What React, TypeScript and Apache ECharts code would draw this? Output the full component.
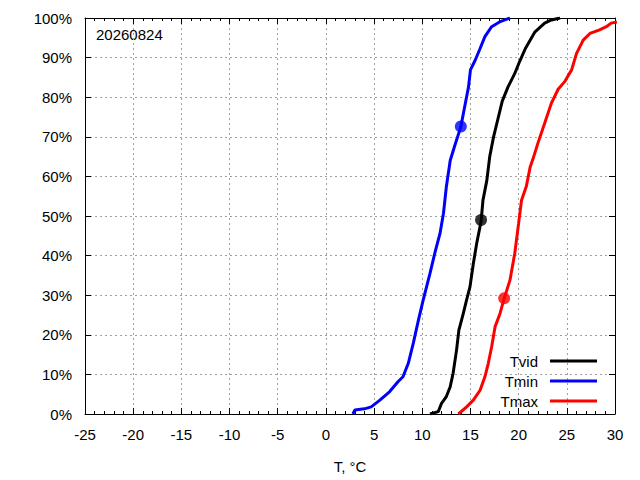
import React, { useEffect, useRef } from "react";
import * as echarts from "echarts";

const FONT = "'Liberation Sans', Arial, sans-serif";

const xTicks = [-25, -20, -15, -10, -5, 0, 5, 10, 15, 20, 25, 30];
const yTicks = [0, 10, 20, 30, 40, 50, 60, 70, 80, 90, 100];

const dateLabel = "20260824";
const seriesNames = ["Tvid", "Tmin", "Tmax"];
const seriesColors = ["#000000", "#0000ff", "#ff0000"];

const tvidX = [10.8, 11.66, 12.0, 12.5, 12.9, 13.2, 13.56, 13.8, 14.26, 14.6, 14.95, 15.3, 15.65, 16.1, 16.3, 16.7, 17.0, 17.4, 17.9, 18.3, 18.9, 19.6, 20.1, 20.7, 21.7, 22.7, 23.4, 24.3];
const tvidY = [0, 0.6, 2.7, 4.4, 6.9, 10.3, 16.2, 21.2, 25.4, 28.8, 32.1, 38, 43.1, 48.6, 54, 59, 65, 70, 75, 79, 82.6, 86, 89, 92.3, 96.5, 98.7, 99.5, 100];

const tminX = [2.8, 3.0, 4.0, 4.7, 5.6, 6.6, 7.5, 8.0, 8.55, 9.07, 9.6, 10.1, 10.8, 11.3, 11.84, 12.2, 12.5, 12.9, 13.4, 14.0, 14.4, 14.8, 15.0, 15.5, 16.0, 16.5, 17.2, 18.1, 19.1];
const tminY = [0, 1, 1.3, 1.8, 3.5, 5.6, 8.2, 9.4, 12.8, 17.9, 23.7, 28.8, 35.5, 40.6, 45.6, 50.7, 57.4, 64, 68, 72.5, 77.6, 82.6, 86.9, 89.4, 92.3, 95.3, 97.8, 99.1, 100];

const tmaxX = [13.75, 14.6, 15.3, 16.0, 16.5, 16.85, 17.2, 17.55, 18.07, 18.5, 19.1, 19.6, 20.0, 20.3, 20.8, 21.2, 21.5, 22.0, 22.7, 23.4, 24.1, 24.8, 25.5, 26.0, 26.7, 27.4, 28.4, 29.1, 29.6, 30.2];
const tmaxY = [0, 1.8, 3.5, 6, 9.4, 12.8, 17, 22, 25.4, 29.2, 33.8, 40.6, 48.2, 54, 57.5, 62.4, 64.5, 68.4, 73.4, 78.5, 82, 84, 86.9, 91, 94.4, 96.1, 97, 97.8, 98.7, 99];

// medians / markers [x, y%]
const markerTvid = [16.1, 49];
const markerTmin = [14.0, 72.6];
const markerTmax = [18.5, 29.2];

const zip = (xs: number[], ys: number[]) => xs.map((x, i) => [x, ys[i]]);

export default function App() {
  const ref = useRef<HTMLDivElement>(null);
  useEffect(() => {
    if (!ref.current) return;
    const chart = echarts.init(ref.current, null, { renderer: "svg" });
    const lines = [zip(tvidX, tvidY), zip(tminX, tminY), zip(tmaxX, tmaxY)];
    const markers = [markerTvid, markerTmin, markerTmax];
    const gridLine = { show: true, lineStyle: { color: "#a0a0a0", type: [2, 3] as any, width: 1 } };
    const xCommon = {
      type: "value" as const,
      min: xTicks[0],
      max: xTicks[xTicks.length - 1],
      interval: 5,
      axisLine: { show: true, onZero: false, lineStyle: { color: "#000", width: 1 } },
      axisTick: { show: true, inside: true, length: 6, lineStyle: { color: "#000" } },
      minorTick: { show: true, splitNumber: 5, length: 3, lineStyle: { color: "#000" } },
    };
    const yCommon = {
      type: "value" as const,
      min: yTicks[0],
      max: yTicks[yTicks.length - 1],
      interval: 10,
      axisLine: { show: true, onZero: false, lineStyle: { color: "#000", width: 1 } },
      axisTick: { show: true, inside: true, length: 6, lineStyle: { color: "#000" } },
    };
    chart.setOption({
      animation: false,
      backgroundColor: "#fff",
      textStyle: { fontFamily: FONT },
      grid: { left: 85, right: 25, top: 18, bottom: 66, containLabel: false },
      xAxis: [
        {
          ...xCommon,
          position: "bottom",
          splitLine: gridLine,
          axisLabel: { show: true, margin: 13, color: "#000", fontSize: 15, fontFamily: FONT },
          name: "T, °C",
          nameLocation: "middle",
          nameGap: 45,
          nameTextStyle: { color: "#000", fontSize: 15, fontFamily: FONT },
        },
        {
          ...xCommon,
          position: "top",
          splitLine: { show: false },
          axisLabel: { show: false },
        },
      ],
      yAxis: [
        {
          ...yCommon,
          position: "left",
          splitLine: gridLine,
          axisLabel: {
            show: true,
            margin: 13,
            color: "#000",
            fontSize: 15,
            fontFamily: FONT,
            formatter: (v: number) => `${v}%`,
          },
        },
        {
          ...yCommon,
          position: "right",
          splitLine: { show: false },
          axisLabel: { show: false },
        },
      ],
      legend: {
        orient: "vertical",
        right: 38,
        top: 348,
        align: "right",
        itemWidth: 47,
        itemHeight: 3,
        itemGap: 4,
        selectedMode: false,
        textStyle: { color: "#000", fontSize: 15, fontFamily: FONT, lineHeight: 16, padding: [0, 7, 0, 0] },
        data: seriesNames.map((n) => ({ name: n, icon: "rect" })),
      },
      graphic: [
        {
          type: "text",
          left: 96,
          top: 27,
          style: { text: dateLabel, fontSize: 15, fontFamily: FONT, fill: "#000" },
        },
      ],
      series: [
        ...seriesNames.map((n, i) => ({
          name: n,
          type: "line",
          data: lines[i],
          showSymbol: false,
          symbol: "none",
          clip: true,
          lineStyle: { color: seriesColors[i], width: 3 },
          itemStyle: { color: seriesColors[i] },
          z: 3,
        })),
        ...seriesNames.map((n, i) => ({
          name: n + " marker",
          type: "scatter",
          data: [markers[i]],
          symbol: "circle",
          symbolSize: 12,
          itemStyle: { color: seriesColors[i] },
          z: 4,
        })),
      ],
    });
    return () => chart.dispose();
  }, []);
  return (
    <div
      ref={ref}
      style={{ position: "fixed", left: 0, top: 0, width: 640, height: 480, background: "#fff" }}
    />
  );
}
